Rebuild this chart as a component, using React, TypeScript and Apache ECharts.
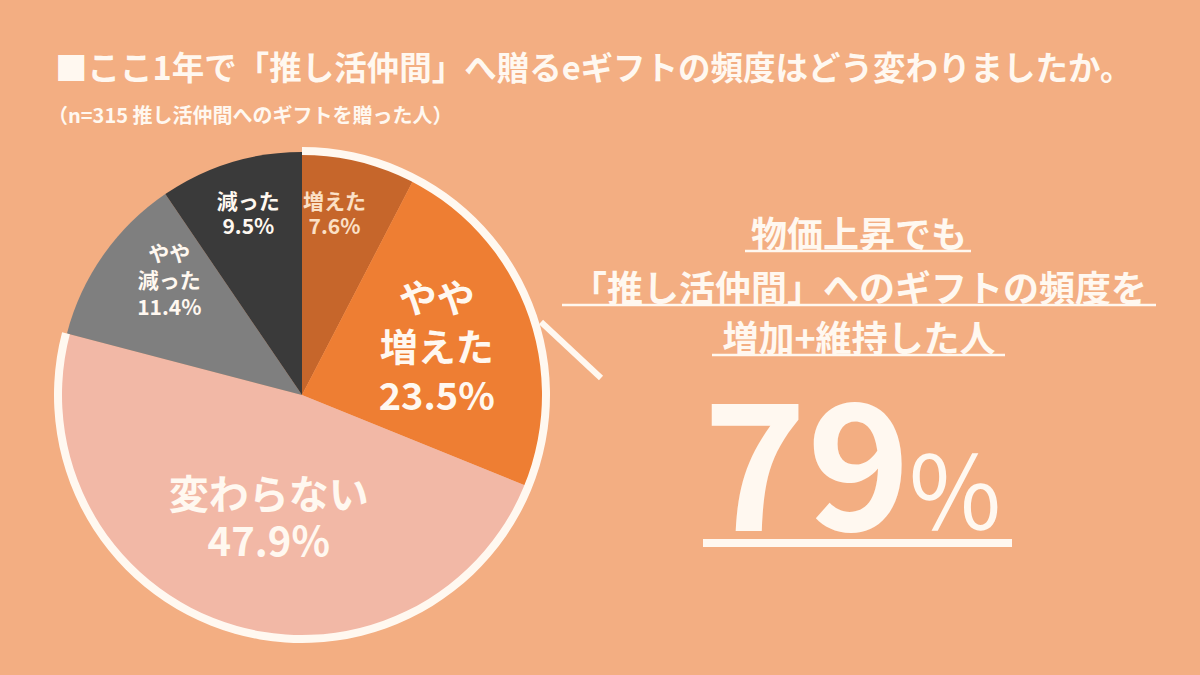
import React, { useRef, useEffect } from 'react';
import * as echarts from 'echarts';

const categories = ['増えた', 'やや増えた', '変わらない', 'やや減った', '減った'];
const shares = [7.6, 23.5, 47.9, 11.4, 9.5];
const sliceColors = ['#C6662B', '#EE7E33', '#F2B8A6', '#7F7F7F', '#3A3A3A'];

const title = '■ここ1年で「推し活仲間」へ贈るeギフトの頻度はどう変わりましたか。';
const subtitle = '（n=315 推し活仲間へのギフトを贈った人）';
const calloutLines = ['物価上昇でも', '「推し活仲間」へのギフトの頻度を', '増加+維持した人'];
const headline = '79';

const FONT = '"Noto Sans CJK JP", "Noto Sans", sans-serif';
const CREAM = '#FFF8F0';

// label look per slice (small for narrow slices, big for the two large ones)
const labelStyles = [
  { fontSize: 21, lineHeight: 25, offset: [3, -62], color: '#FBE0C6' },
  { fontSize: 38, lineHeight: 49, offset: [18, -7], color: CREAM },
  { fontSize: 40, lineHeight: 47, offset: [6, 2], color: CREAM },
  { fontSize: 21, lineHeight: 27, offset: [-31, -44], color: CREAM },
  { fontSize: 21, lineHeight: 25, offset: [-17, -64], color: CREAM },
];

export default function App() {
  const chartRef = useRef<HTMLDivElement>(null);

  useEffect(() => {
    if (!chartRef.current) return;
    const chart = echarts.init(chartRef.current, undefined, { renderer: 'svg' });

    const total = shares.reduce((a, b) => a + b, 0);
    const keptOrUp = shares.slice(0, 3).reduce((a, b) => a + b, 0);

    const option: echarts.EChartsOption = {
      animation: false,
      backgroundColor: '#F3AE82',
      series: [
        {
          type: 'pie',
          center: [302, 395],
          radius: [0, 243],
          startAngle: 90,
          clockwise: true,
          silent: true,
          itemStyle: { borderWidth: 0 },
          labelLine: { show: false },
          data: categories.map((name, i) => ({
            name,
            value: shares[i],
            itemStyle: { color: sliceColors[i] },
            label: {
              show: true,
              position: 'inside',
              formatter: `${name.replace('やや', 'やや\n')}\n${shares[i].toFixed(1)}%`,
              fontFamily: FONT,
              fontWeight: 'bold',
              fontSize: labelStyles[i].fontSize,
              lineHeight: labelStyles[i].lineHeight,
              color: labelStyles[i].color,
              offset: labelStyles[i].offset,
              align: 'center',
            },
          })),
        },
        {
          // white rim around increased + unchanged
          type: 'pie',
          center: [302, 395],
          radius: [240, 248],
          startAngle: 90,
          clockwise: true,
          silent: true,
          z: 5,
          label: { show: false },
          labelLine: { show: false },
          itemStyle: { borderWidth: 0 },
          data: [
            { name: 'kept', value: keptOrUp, itemStyle: { color: CREAM } },
            { name: 'rest', value: total - keptOrUp, itemStyle: { color: 'rgba(0,0,0,0)' } },
          ],
        },
      ],
      graphic: [
        {
          type: 'text',
          left: 55,
          top: 49,
          style: { text: title, fontFamily: FONT, fontWeight: 'bold', fontSize: 32.5, fill: CREAM },
        },
        {
          type: 'text',
          left: 48,
          top: 104,
          style: { text: subtitle, fontFamily: FONT, fontWeight: 'bold', fontSize: 20, fill: CREAM },
        },
        {
          type: 'line',
          shape: { x1: 541, y1: 322, x2: 601, y2: 378 },
          style: { stroke: CREAM, lineWidth: 6 },
        },
        ...calloutLines.map((t, i) => ({
          type: 'text',
          x: 859,
          y: [232, 286, 336][i],
          style: {
            text: t,
            fontFamily: FONT,
            fontWeight: 'bold',
            fontSize: 36,
            fill: CREAM,
            align: 'center',
            verticalAlign: 'middle',
          },
        })),
        { type: 'line', shape: { x1: 745, y1: 251, x2: 971, y2: 251 }, style: { stroke: CREAM, lineWidth: 2.5 } },
        { type: 'line', shape: { x1: 562, y1: 305, x2: 1156, y2: 305 }, style: { stroke: CREAM, lineWidth: 2.5 } },
        { type: 'line', shape: { x1: 712, y1: 355, x2: 1005, y2: 355 }, style: { stroke: CREAM, lineWidth: 2.5 } },
        {
          type: 'text',
          x: 703,
          y: 454,
          style: {
            text: headline,
            fontFamily: FONT,
            fontWeight: 'bold',
            fontSize: 176,
            fill: CREAM,
            align: 'left',
            verticalAlign: 'middle',
          },
        },
        {
          type: 'text',
          x: 905,
          y: 486,
          style: {
            text: '％',
            fontFamily: FONT,
            fontWeight: 'normal',
            fontSize: 100,
            fill: CREAM,
            align: 'left',
            verticalAlign: 'middle',
          },
        },
        { type: 'line', shape: { x1: 703, y1: 543, x2: 1012, y2: 543 }, style: { stroke: CREAM, lineWidth: 8 } },
      ],
    };

    chart.setOption(option);
    return () => chart.dispose();
  }, []);

  return (
    <div
      ref={chartRef}
      style={{ position: 'fixed', left: 0, top: 0, width: 1200, height: 675 }}
    />
  );
}
